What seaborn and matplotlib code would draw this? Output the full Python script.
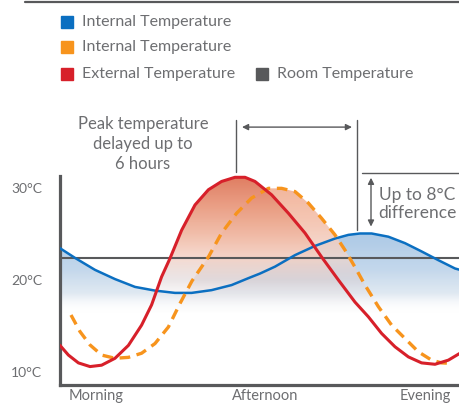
import numpy as np
import matplotlib
matplotlib.use('Agg')
import matplotlib.pyplot as plt
import seaborn as sns
from matplotlib.colors import to_rgb
from matplotlib.lines import Line2D
from matplotlib.patches import Rectangle

# data (hours from the left edge of the chart, temperature in °C)
red_h = [0, 0.42, 0.92, 1.5, 2.08, 2.75, 3.42, 4.08, 4.58, 5.08, 5.5, 6.08, 6.75,
         7.42, 8.08, 8.75, 9.25, 9.75, 10.58, 11.42, 12.25, 13.08, 13.92, 14.75,
         15.42, 16.08, 16.75, 17.42, 18.08, 18.75, 19.42, 20.0]
red_t = [12.9, 11.85, 11.0, 10.6, 10.75, 11.5, 12.9, 15.1, 17.3, 20.35, 22.35, 25.4,
         28.15, 29.8, 30.7, 31.15, 31.15, 30.7, 29.25, 27.25, 25.1, 22.5, 20.0, 17.6,
         16.0, 14.2, 12.75, 11.65, 11.0, 10.85, 11.3, 12.05]

orange_h = [0.55, 1.0, 1.5, 2.08, 2.75, 3.42, 4.08, 4.75, 5.42, 6.0, 6.6, 7.42,
            8.08, 8.83, 9.58, 10.42, 11.08, 11.75, 12.42, 13.08, 13.75, 14.25,
            14.75, 15.25, 15.92, 16.58, 17.25, 17.92, 18.58, 19.08, 19.58]
orange_t = [16.2, 14.4, 12.95, 11.85, 11.5, 11.6, 12.05, 13.1, 14.9, 17.45, 19.9, 22.5,
            25.1, 27.25, 28.9, 29.95, 29.95, 29.6, 28.35, 26.7, 24.9, 23.25,
            21.4, 19.45, 17.1, 15.1, 13.65, 12.2, 11.3, 11.0, 10.95]

blue_h = [0, 0.75, 1.75, 2.75, 3.75, 4.75, 5.75, 6.58, 7.58, 8.58, 9.42, 10.0,
          10.75, 11.75, 12.75, 13.75, 14.42, 15.0, 15.58, 16.42, 17.25, 18.08,
          18.92, 19.75, 20.0]
blue_t = [23.45, 22.4, 21.1, 20.1, 19.25, 18.85, 18.6, 18.6, 18.9, 19.45, 20.2, 20.7,
          21.45, 22.7, 23.7, 24.5, 24.9, 25.05, 25.05, 24.7, 24.0, 23.1,
          22.15, 21.25, 21.1]

room_temp = 22.35
y_ticks = [10, 20, 30]
y_labels = ['10°C', '20°C', '30°C']
x_ticks = [1.8, 10.25, 18.25]
x_labels = ['Morning', 'Afternoon', 'Evening']

BLUE = '#0b6fc1'
ORANGE = '#f7941d'
RED = '#d7202a'
GREY = '#58595b'
TXT = '#6d6e71'

sns.set_style('white')
plt.rcParams['font.family'] = ['Lato', 'DejaVu Sans']

W, H = 460, 405
fig = plt.figure(figsize=(W / 100, H / 100), dpi=100)
ax = fig.add_axes([60 / W, 20 / H, 400 / W, 385 / H])
ax.set_xlim(0, 20)
ax.set_ylim(8.6, 50.4)


def gradient_fill(x, y, stops, stop, z):
    # stops: list of (temperature, colour, alpha) from top to bottom
    x = np.asarray(x)
    y = np.asarray(y)
    poly = ax.fill_between(x, y, stop, where=y > stop, interpolate=True,
                           facecolor='none', edgecolor='none')
    top = y.max()
    n = 300
    tt = np.linspace(top, stop, n)
    st = [s[0] for s in stops][::-1]
    img = np.zeros((n, 1, 4))
    for k in range(3):
        img[:, 0, k] = np.interp(tt, st, [to_rgb(s[1])[k] for s in stops][::-1])
    img[:, 0, 3] = np.interp(tt, st, [s[2] for s in stops][::-1])
    for p in poly.get_paths():
        im = ax.imshow(img, aspect='auto', extent=[x.min(), x.max(), stop, top],
                       origin='upper', zorder=z, interpolation='bilinear')
        im.set_clip_path(p, transform=ax.transData)


gradient_fill(blue_h, blue_t, [(25.2, '#a7c6e5', 0.95), (21, '#bed4ea', 0.9),
                               (18.5, '#d6e2ee', 0.75), (16.4, '#ffffff', 0)], 16.4, 1)
gradient_fill(orange_h, orange_t, [(30.2, '#f2b59b', 1), (26, '#f5c6b3', 0.95),
                                   (22.5, '#f1d6cc', 0.8), (20, '#d9d0d4', 0.6),
                                   (16.4, '#ffffff', 0)], 16.4, 1.1)
gradient_fill(red_h, red_t, [(31.3, '#e07c60', 1), (28, '#e99a7f', 0.95),
                             (25, '#f0b7a1', 0.9), (22.5, '#f4d0c3', 0.8),
                             (20, '#dcd2d4', 0.55), (16.4, '#ffffff', 0)], 16.4, 1.2)

ax.axhline(room_temp, color=GREY, lw=1.5, zorder=2)
sns.lineplot(x=blue_h, y=blue_t, ax=ax, color=BLUE, lw=1.8, zorder=3)
sns.lineplot(x=orange_h, y=orange_t, ax=ax, color=ORANGE, lw=2.4,
             ls=(0, (3.2, 2)), zorder=4)
sns.lineplot(x=red_h, y=red_t, ax=ax, color=RED, lw=2.2, zorder=5)

# axes styling
for s in ['top', 'right']:
    ax.spines[s].set_visible(False)
ax.spines['left'].set_bounds(8.6, 31.3)
for s in ['left', 'bottom']:
    ax.spines[s].set_color(GREY)
    ax.spines[s].set_linewidth(2.3)
ax.set_yticks(y_ticks, y_labels)
ax.set_xticks(x_ticks, x_labels)
ax.tick_params(length=0, labelcolor=TXT)
ax.tick_params(axis='y', labelsize=10, pad=13)
ax.tick_params(axis='x', labelsize=10.5, pad=3)

# annotations
ax.plot([8.8, 8.8], [31.7, 37.4], color=GREY, lw=1, clip_on=False)
ax.plot([14.85, 14.85], [25.4, 37.4], color=GREY, lw=1, clip_on=False)
ax.annotate('', xy=(9.1, 36.6), xytext=(14.6, 36.6),
            arrowprops=dict(arrowstyle='<|-|>', color=GREY, lw=1, mutation_scale=9,
                            shrinkA=0, shrinkB=0))
ax.text(4.15, 34.8, 'Peak temperature\ndelayed up to\n6 hours', ha='center',
        va='center', fontsize=12, color=TXT, linespacing=1.32)

ax.plot([15.1, 20], [31.63, 31.63], color=GREY, lw=1, clip_on=False)
ax.annotate('', xy=(15.55, 31.1), xytext=(15.55, 25.8),
            arrowprops=dict(arrowstyle='<|-|>', color=GREY, lw=1, mutation_scale=9,
                            shrinkA=0, shrinkB=0))
ax.text(17.85, 28.2, 'Up to 8°C\ndifference', ha='center', va='center',
        fontsize=12.5, color=TXT, linespacing=1.15)

# top rule
fig.add_artist(Line2D([25 / W, 1], [1 - 2 / H, 1 - 2 / H], color=GREY, lw=1.6))

# legend
legend_items = [(61, 22, BLUE, 'Internal Temperature'),
                (61, 47, ORANGE, 'Internal Temperature'),
                (61, 74, RED, 'External Temperature'),
                (256, 74, GREY, 'Room Temperature')]
for px, py, c, lab in legend_items:
    fig.add_artist(Rectangle((px / W, 1 - (py + 6) / H), 12 / W, 12 / H,
                             transform=fig.transFigure, color=c))
    fig.text((px + 21) / W, 1 - py / H, lab, ha='left', va='center',
             fontsize=11.5, color=TXT)

fig.savefig('out.png', dpi=100)
